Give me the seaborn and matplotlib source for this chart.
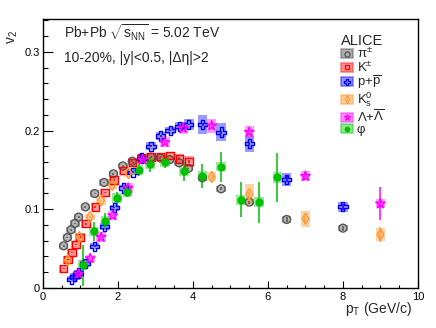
import numpy as np
import pandas as pd
import matplotlib
matplotlib.use("Agg")
import matplotlib.pyplot as plt
import seaborn as sns
from matplotlib.patches import Rectangle, Patch
from matplotlib.lines import Line2D
from matplotlib.ticker import MultipleLocator, FuncFormatter

# pi+-
pi_pt = [0.55, 0.65, 0.75, 0.85, 0.95, 1.13, 1.38, 1.63, 1.88, 2.13, 2.38, 2.63, 2.88, 3.13, 3.38, 3.63, 3.88, 4.25, 4.75, 5.5, 6.5, 8.0]
pi_v2 = [0.0535, 0.064, 0.074, 0.082, 0.090, 0.103, 0.120, 0.134, 0.145, 0.155, 0.161, 0.165, 0.166, 0.165, 0.163, 0.159, 0.152, 0.140, 0.126, 0.109, 0.087, 0.076]
pi_stat = [0.001] * 17 + [0.002, 0.002, 0.002, 0.003, 0.003]
pi_sys = [0.004] * 22

# K+-
k_pt = [0.55, 0.67, 0.77, 0.88, 0.99, 1.15, 1.40, 1.65, 1.89, 2.14, 2.39, 2.63, 2.88, 3.14, 3.39, 3.64, 3.89]
k_v2 = [0.0246, 0.036, 0.045, 0.055, 0.0645, 0.0815, 0.103, 0.121, 0.137, 0.149, 0.159, 0.165, 0.1665, 0.167, 0.168, 0.164, 0.161]
k_stat = [0.001] * 15 + [0.002, 0.002]
k_sys = [0.005] * 15 + [0.006, 0.007]

# p + pbar
p_pt = [0.76, 0.85, 0.95, 1.12, 1.38, 1.65, 1.90, 2.15, 2.40, 2.63, 2.88, 3.14, 3.39, 3.64, 3.89, 4.26, 4.75, 5.5, 6.5, 8.0]
p_v2 = [0.011, 0.0145, 0.019, 0.031, 0.053, 0.078, 0.102, 0.127, 0.147, 0.165, 0.180, 0.193, 0.200, 0.2055, 0.2076, 0.2076, 0.198, 0.183, 0.138, 0.103]
p_stat = [0.001] * 15 + [0.002, 0.002, 0.003, 0.004, 0.004]
p_sys = [0.004] * 10 + [0.005, 0.005, 0.005, 0.005, 0.0068, 0.0115, 0.0115, 0.0106, 0.008, 0.0064]

# K0s
k0_pt = [0.66, 0.97, 1.25, 1.55, 1.85, 2.28, 4.5, 5.5, 7.0, 9.0]
k0_v2 = [0.035, 0.0646, 0.090, 0.111, 0.131, 0.146, 0.141, 0.119, 0.088, 0.068]
k0_stat = [0.001, 0.001, 0.001, 0.001, 0.001, 0.001, 0.002, 0.003, 0.004, 0.009]
k0_sys = [0.004, 0.004, 0.004, 0.005, 0.005, 0.005, 0.0057, 0.0134, 0.010, 0.0083]

# Lambda + anti-Lambda
la_pt = [0.95, 1.26, 1.55, 1.86, 2.27, 2.66, 3.25, 3.74, 4.5, 5.5, 7.0, 9.0]
la_v2 = [0.018, 0.0375, 0.0645, 0.092, 0.127, 0.163, 0.185, 0.203, 0.206, 0.198, 0.142, 0.107]
la_stat = [0.001, 0.001, 0.001, 0.001, 0.002, 0.002, 0.002, 0.003, 0.003, 0.004, 0.005, 0.021]
la_sys = [0.005, 0.005, 0.006, 0.006, 0.006, 0.006, 0.0065, 0.008, 0.009, 0.008, 0.006, 0.006]

# phi
phi_pt = [1.06, 1.35, 1.66, 1.97, 2.25, 2.55, 2.85, 3.25, 3.76, 4.25, 4.75, 5.27, 5.76, 6.25]
phi_v2 = [0.029, 0.072, 0.085, 0.114, 0.122, 0.150, 0.157, 0.160, 0.148, 0.142, 0.154, 0.112, 0.109, 0.1405]
phi_stat = [0.026, 0.012, 0.010, 0.008, 0.007, 0.008, 0.010, 0.0075, 0.012, 0.015, 0.019, 0.022, 0.026, 0.031]
phi_sys = [0.006] * 13 + [0.0074]

labels = ['π$^{\\pm}$', 'K$^{\\pm}$', 'p+$\\overline{\\mathrm{p}}$', 'K$^{0}_{\\mathrm{s}}$', 'Λ+$\\overline{\\Lambda}$', 'φ']

sns.set_theme(style="ticks")
plt.rcParams['font.family'] = ['Liberation Sans', 'DejaVu Sans']
plt.rcParams['mathtext.fontset'] = 'custom'
plt.rcParams['mathtext.rm'] = 'Liberation Sans'
plt.rcParams['mathtext.it'] = 'Liberation Sans:italic'
plt.rcParams['mathtext.bf'] = 'Liberation Sans:bold'

species = [
    (pi_pt, pi_v2, pi_stat, pi_sys, 'o', 32, '#555555', '#5a5a5a', False),
    (k_pt, k_v2, k_stat, k_sys, 's', 28, '#ff0000', '#ff2020', False),
    (p_pt, p_v2, p_stat, p_sys, 'P', 44, '#0000ff', '#2020ff', False),
    (k0_pt, k0_v2, k0_stat, k0_sys, 'd', 32, '#ff9933', '#ff9933', False),
    (la_pt, la_v2, la_stat, la_sys, '*', 52, '#ff00ff', '#ff20ff', False),
    (phi_pt, phi_v2, phi_stat, phi_sys, 'o', 24, '#00c000', '#22cc22', True),
]

fig = plt.figure(figsize=(4.36, 3.28), dpi=100)
ax = fig.add_axes([0.0986, 0.122, 0.860, 0.8186])

box_w = 0.25
handles = []
for pt, v2, stat, sys_, mk, s, col, boxcol, filled in species:
    df = pd.DataFrame({'pt': pt, 'v2': v2, 'stat': stat, 'sys': sys_})
    for _, r in df.iterrows():
        ax.add_patch(Rectangle((r.pt - box_w / 2, r.v2 - r.sys), box_w, 2 * r.sys,
                               facecolor=boxcol, alpha=0.45, edgecolor='none', zorder=1))
    ax.errorbar(df.pt, df.v2, yerr=df.stat, fmt='none', ecolor=col, elinewidth=1.1,
                capsize=0, zorder=2)
    sns.scatterplot(data=df, x='pt', y='v2', marker=mk, s=s, color=col, linewidth=1.0,
                    ax=ax, zorder=3, legend=False)
    coll = ax.collections[-1]
    coll.set_edgecolor(col)
    coll.set_facecolor(col if filled else 'none')
    h_box = Patch(facecolor=boxcol, alpha=0.5, edgecolor=boxcol, linewidth=1.2)
    h_mk = Line2D([], [], linestyle='none', marker=mk, markersize=np.sqrt(s) * 0.65,
                  markeredgecolor=col, markerfacecolor=col if filled else 'none',
                  markeredgewidth=0.9)
    handles.append((h_box, h_mk))

ax.set_xlim(0, 10)
ax.set_ylim(0, 0.341)
ax.xaxis.set_major_locator(MultipleLocator(2))
ax.xaxis.set_minor_locator(MultipleLocator(0.5))
ax.yaxis.set_major_locator(MultipleLocator(0.1))
ax.yaxis.set_minor_locator(MultipleLocator(0.02))
ax.xaxis.set_major_formatter(FuncFormatter(lambda v, p: f'{v:g}'))
ax.yaxis.set_major_formatter(FuncFormatter(lambda v, p: f'{v:g}'))
ax.tick_params(axis='both', which='both', direction='in', top=False, right=False,
               labelsize=8, colors='black', width=0.8)
ax.tick_params(axis='y', which='major', length=7, pad=2)
ax.tick_params(axis='y', which='minor', length=3.5)
ax.tick_params(axis='x', which='major', length=5, pad=3)
ax.tick_params(axis='x', which='minor', length=2.5)
for sp in ax.spines.values():
    sp.set_visible(True)
    sp.set_color('black')
    sp.set_linewidth(1.0)

ax.set_xlabel('p$_{\\mathrm{T}}$ (GeV/c)', loc='right', fontsize=10)
ax.xaxis.set_label_coords(0.984, -0.045)
ax.set_ylabel('v$_{2}$', loc='top', fontsize=10)
ax.yaxis.set_label_coords(-0.06, 0.96)

ax.text(0.056, 0.95, 'Pb+Pb $\\sqrt{\\mathrm{s}_{\\mathrm{NN}}}$ = 5.02 TeV', transform=ax.transAxes,
        fontsize=10, va='center', ha='left')
ax.text(0.056, 0.857, '10-20%, |y|<0.5, |Δη|>2', transform=ax.transAxes,
        fontsize=10, va='center', ha='left')

leg = ax.legend(handles, labels, loc='upper left', bbox_to_anchor=(0.77, 0.982),
                frameon=False, fontsize=9.5, title='ALICE', title_fontsize=10.5,
                alignment='left', handlelength=0.9, handleheight=0.7,
                handletextpad=0.3, labelspacing=-0.06, borderpad=0.2)

fig.savefig('out.png', dpi=100)
